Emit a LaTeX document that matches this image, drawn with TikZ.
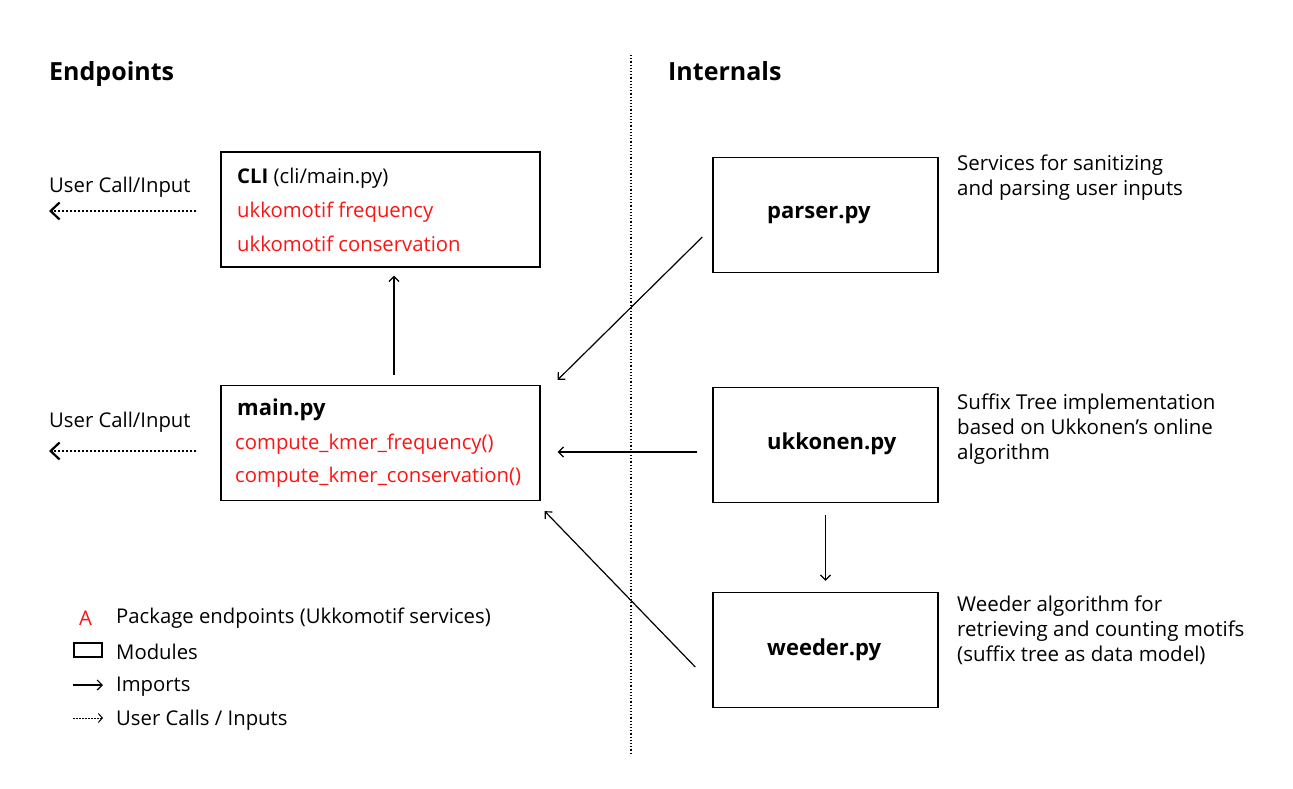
\documentclass[tikz,border=0pt]{standalone}
\usepackage{fontspec}
\setmainfont{Open Sans}
\usetikzlibrary{arrows.meta}
\definecolor{endp}{RGB}{250,20,20}

\begin{document}
\begin{tikzpicture}[x=1pt,y=-1pt,
  module/.style={draw, line width=1.4pt, minimum width=319pt, minimum height=115pt, inner sep=0pt},
  intmod/.style={draw, line width=1.4pt, minimum width=225pt, minimum height=115pt, inner sep=0pt},
  modname/.style={anchor=west, inner sep=0pt, font=\fontsize{22}{26}\selectfont\bfseries},
  heading/.style={anchor=base west, inner sep=0pt, font=\fontsize{25}{30}\selectfont\bfseries},
  txt/.style={anchor=west, inner sep=0pt, font=\fontsize{20.3}{24}\selectfont},
  red txt/.style={txt, text=endp},
  desc/.style={anchor=north west, inner sep=0pt, align=left, font=\fontsize{20.5}{25}\selectfont},
  imp/.style={line width=1.2pt, -{Straight Barb[length=5pt,width=10pt]}},
  usr/.style={line width=2.2pt, dash pattern=on 2pt off 2pt, -{Straight Barb[length=9pt,width=17pt,line width=2.2pt]}}]
\useasboundingbox (0,0) rectangle (1293,788);

\node[heading] (endpts) at (49,80) {Endpoints};
\node[heading] (intern) at (668,80) {Internals};
\draw [line width=1.2pt, dotted] (631,55) -- (631,755);

\node[module] (cli) at (380.5,209.5) {};
\node[txt] (clit) at (237,178) {\textbf{CLI} (cli/main.py)};
\node[red txt] (freq) at (237,212) {ukkomotif frequency};
\node[red txt] (cons) at (237,244) {ukkomotif conservation};

\node[module] (main) at (380.5,443) {};
\node[modname] (maint) at (237,410) {main.py};
\node[red txt] (cfreq) at (235,444) {compute\_kmer\_frequency()};
\node[red txt] (ccons) at (235,477) {compute\_kmer\_conservation()};

\node[intmod] (parser) at (825.5,215) {};
\node[intmod] (ukk) at (825.5,445) {};
\node[intmod] (weeder) at (825.5,650) {};
\node[modname] (pname) at (767,215) {parser.py};
\node[modname] (uname) at (767,444) {ukkonen.py};
\node[modname] (wname) at (767,650) {weeder.py};

\node[desc] (dparser) at (957,155) {Services for sanitizing\\and parsing user inputs};
\node[desc] (dukk) at (957,394) {Suffix Tree implementation\\based on Ukkonen’s online\\algorithm};
\node[desc] (dweeder) at (957,596) {Weeder algorithm for\\retrieving and counting motifs\\(suffix tree as data model)};

\node[txt] (ucli) at (49,187) {User Call/Input};
\node[txt] (umain) at (49,422) {User Call/Input};
\coordinate (ocli) at (49,211);
\coordinate (omain) at (49,451);
\draw [usr] ([shift={(-24,1.5)}]cli.west) -- (ocli);
\draw [usr] ([shift={(-24,8)}]main.west) -- (omain);

\draw [imp] ([shift={(13.5,-10)}]main.north) -- ([shift={(13.5,8)}]cli.south);
\draw [imp] ([shift={(-10,22)}]parser.west) -- ([shift={(17,-5)}]main.north east);
\draw [imp] ([shift={(-15,7)}]ukk.west) -- ([shift={(17,9)}]main.east);
\draw [imp] ([shift={(0,12)}]ukk.south) -- ([shift={(0,-11)}]weeder.north);
\draw [imp] ([shift={(-17,17)}]weeder.west) -- ([shift={(4,10)}]main.south east);

% legend
\node[red txt] (la) at (79,618) {A};
\node[txt] (lat) at (116,618) {Package endpoints (Ukkomotif services)};
\node[draw, line width=1.3pt, minimum width=28pt, minimum height=14pt, inner sep=0pt] (lbox) at (88,650) {};
\node[txt] (lboxt) at (116,652) {Modules};
\coordinate (limpa) at (73,685);
\coordinate (limpb) at (103,685);
\draw [imp] (limpa) -- (limpb);
\node[txt] (limpt) at (116,687) {Imports};
\coordinate (lusra) at (73,718);
\coordinate (lusrb) at (103,718);
\draw [line width=1pt, dash pattern=on 1.5pt off 1.5pt, -{Straight Barb[length=4pt,width=9pt]}] (lusra) -- (lusrb);
\node[txt] (lusrt) at (116,720) {User Calls / Inputs};
\end{tikzpicture}
\end{document}
